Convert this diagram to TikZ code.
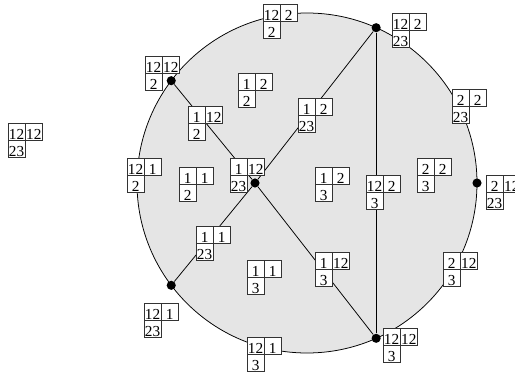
\documentclass[tikz,border=0pt]{standalone}
\usepackage{fontspec}
\setmainfont{Liberation Serif}
\usetikzlibrary{positioning, calc}

\begin{document}
\begin{tikzpicture}[
  x=0.23mm, y=0.23mm,
  node distance = 0pt,
  disk/.style   = {draw=black, line width=0.5pt, fill=black!10},
  edge/.style   = {draw=black, line width=0.5pt},
  vertex/.style = {circle, fill=black, inner sep=0pt, minimum size=2.1mm},
  cell/.style   = {rectangle, draw=black!80, fill=white, line width=0.5pt,
                   minimum size=3.95mm, inner sep=0pt, outer sep=0pt,
                   text height=10.5pt, text depth=0.7pt,
                   font=\fontsize{10}{12}\selectfont},
]

\useasboundingbox (0,0) rectangle (515,374);

%% Disk
\coordinate (O) at (307,191);
\draw[disk] (O) circle[radius=170];

%% Vertices
\node[vertex] (vC)  at (255,191) {};
\node[vertex] (vR)  at ($(O)+(0:170)$) {};
\node[vertex] (vT)  at ($(O)+(66:170)$) {};
\node[vertex] (vB)  at ($(O)+(-66:170)$) {};
\node[vertex] (vUL) at ($(O)+(143:170)$) {};
\node[vertex] (vLL) at ($(O)+(217:170)$) {};

%% Edges
\foreach \a/\b in {vUL/vC, vLL/vC, vC/vT, vC/vB, vT/vB}
  \draw[edge] (\a) -- (\b);

%% Tableaux
\foreach \n/\x/\y/\a/\b/\c in {
    tTop/263/370/12/2/2,   tK/392/361/12/2/23,   tUL/145/318/12/12/2,
    tA/238/301/1/2/2,      tL/452/285/2/2/23,    tC/298/276/1/2/23,
    tB/188/268/1/12/2,     tOut/8/251/12/12/23,  tLeft/127/216/12/1/2,
    tE/230/216/1/12/23,    tI/417/216/2/2/3,     tD/179/207/1/1/2,
    tG/315/207/1/2/3,      tH/366/199/12/2/3,    tJ/486/199/2/12/23,
    tF/196/148/1/1/23,     tP/315/122/1/12/3,    tQ/443/122/2/12/3,
    tM/247/114/1/1/3,      tN/144/71/12/1/23,    tR/383/46/12/12/3,
    tO/247/37/12/1/3}{
  \node[cell, anchor=north west] (\n-1) at (\x,\y) {\a};
  \node[cell, right=of \n-1] (\n-2) {\b};
  \node[cell, below=of \n-1] (\n-3) {\c};
}

\end{tikzpicture}
\end{document}
